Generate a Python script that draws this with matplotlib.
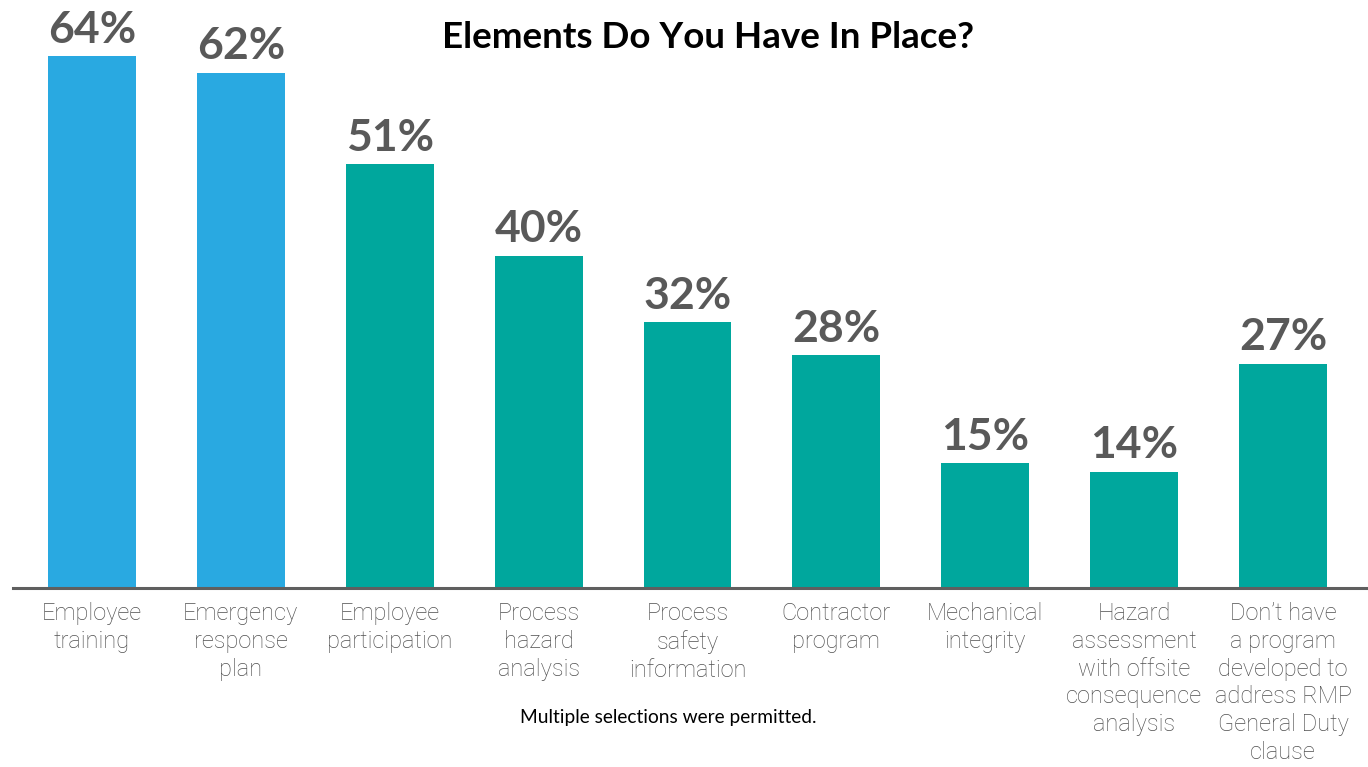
import numpy as np
import matplotlib
matplotlib.use('Agg')
import matplotlib.pyplot as plt

# data
categories = [
    "Employee\ntraining",
    "Emergency\nresponse\nplan",
    "Employee\nparticipation",
    "Process\nhazard\nanalysis",
    "Process\nsafety\ninformation",
    "Contractor\nprogram",
    "Mechanical\nintegrity",
    "Hazard\nassessment\nwith offsite\nconsequence\nanalysis",
    "Don\u2019t have\na program\ndeveloped to\naddress RMP\nGeneral Duty\nclause",
]
values = [64, 62, 51, 40, 32, 28, 15, 14, 27]
groups = ["blue", "blue", "teal", "teal", "teal", "teal", "teal", "teal", "teal"]

title = "Elements Do You Have In Place?"
note = "Multiple selections were permitted."

palette = {"blue": "#29A9E1", "teal": "#00A79D"}
label_gray = "#595959"

plt.rcParams['font.family'] = ['Lato', 'DejaVu Sans']

fig = plt.figure(figsize=(13.68, 7.67), dpi=100)
ax = fig.add_axes([13 / 1368, (767 - 588) / 767, 1 - 13 / 1368, 588 / 767])

x = np.arange(len(values))
bars = ax.bar(x, values, width=0.59, color=[palette[g] for g in groups], zorder=2)

for xi, v in zip(x, values):
    ax.text(xi, v + 0.8, f"{v}%", ha='center', va='bottom', fontsize=32,
            fontweight='bold', color=label_gray)

ax.set_xlim(-0.53, 8.57)
ax.set_ylim(0, 70.8)
ax.set_yticks([])
ax.set_xticks(x)
ax.set_xticklabels(categories, fontsize=17, color='#505050',
                   linespacing=1.27, family=['Roboto', 'DejaVu Sans'], fontweight='light')
ax.tick_params(axis='x', length=0, pad=10)
for side in ['top', 'right', 'left']:
    ax.spines[side].set_visible(False)
ax.spines['bottom'].set_color('#5f5f5f')
ax.spines['bottom'].set_linewidth(2.2)
ax.patch.set_alpha(0)

fig.text(708 / 1368, 1 - 37 / 767, title, ha='center', va='center', fontsize=26.5,
         fontweight='bold', color='black')
fig.text(668 / 1368, 1 - 718 / 767, note, ha='center', va='center', fontsize=13.8,
         color='black')

fig.savefig('out.png', dpi=100)
